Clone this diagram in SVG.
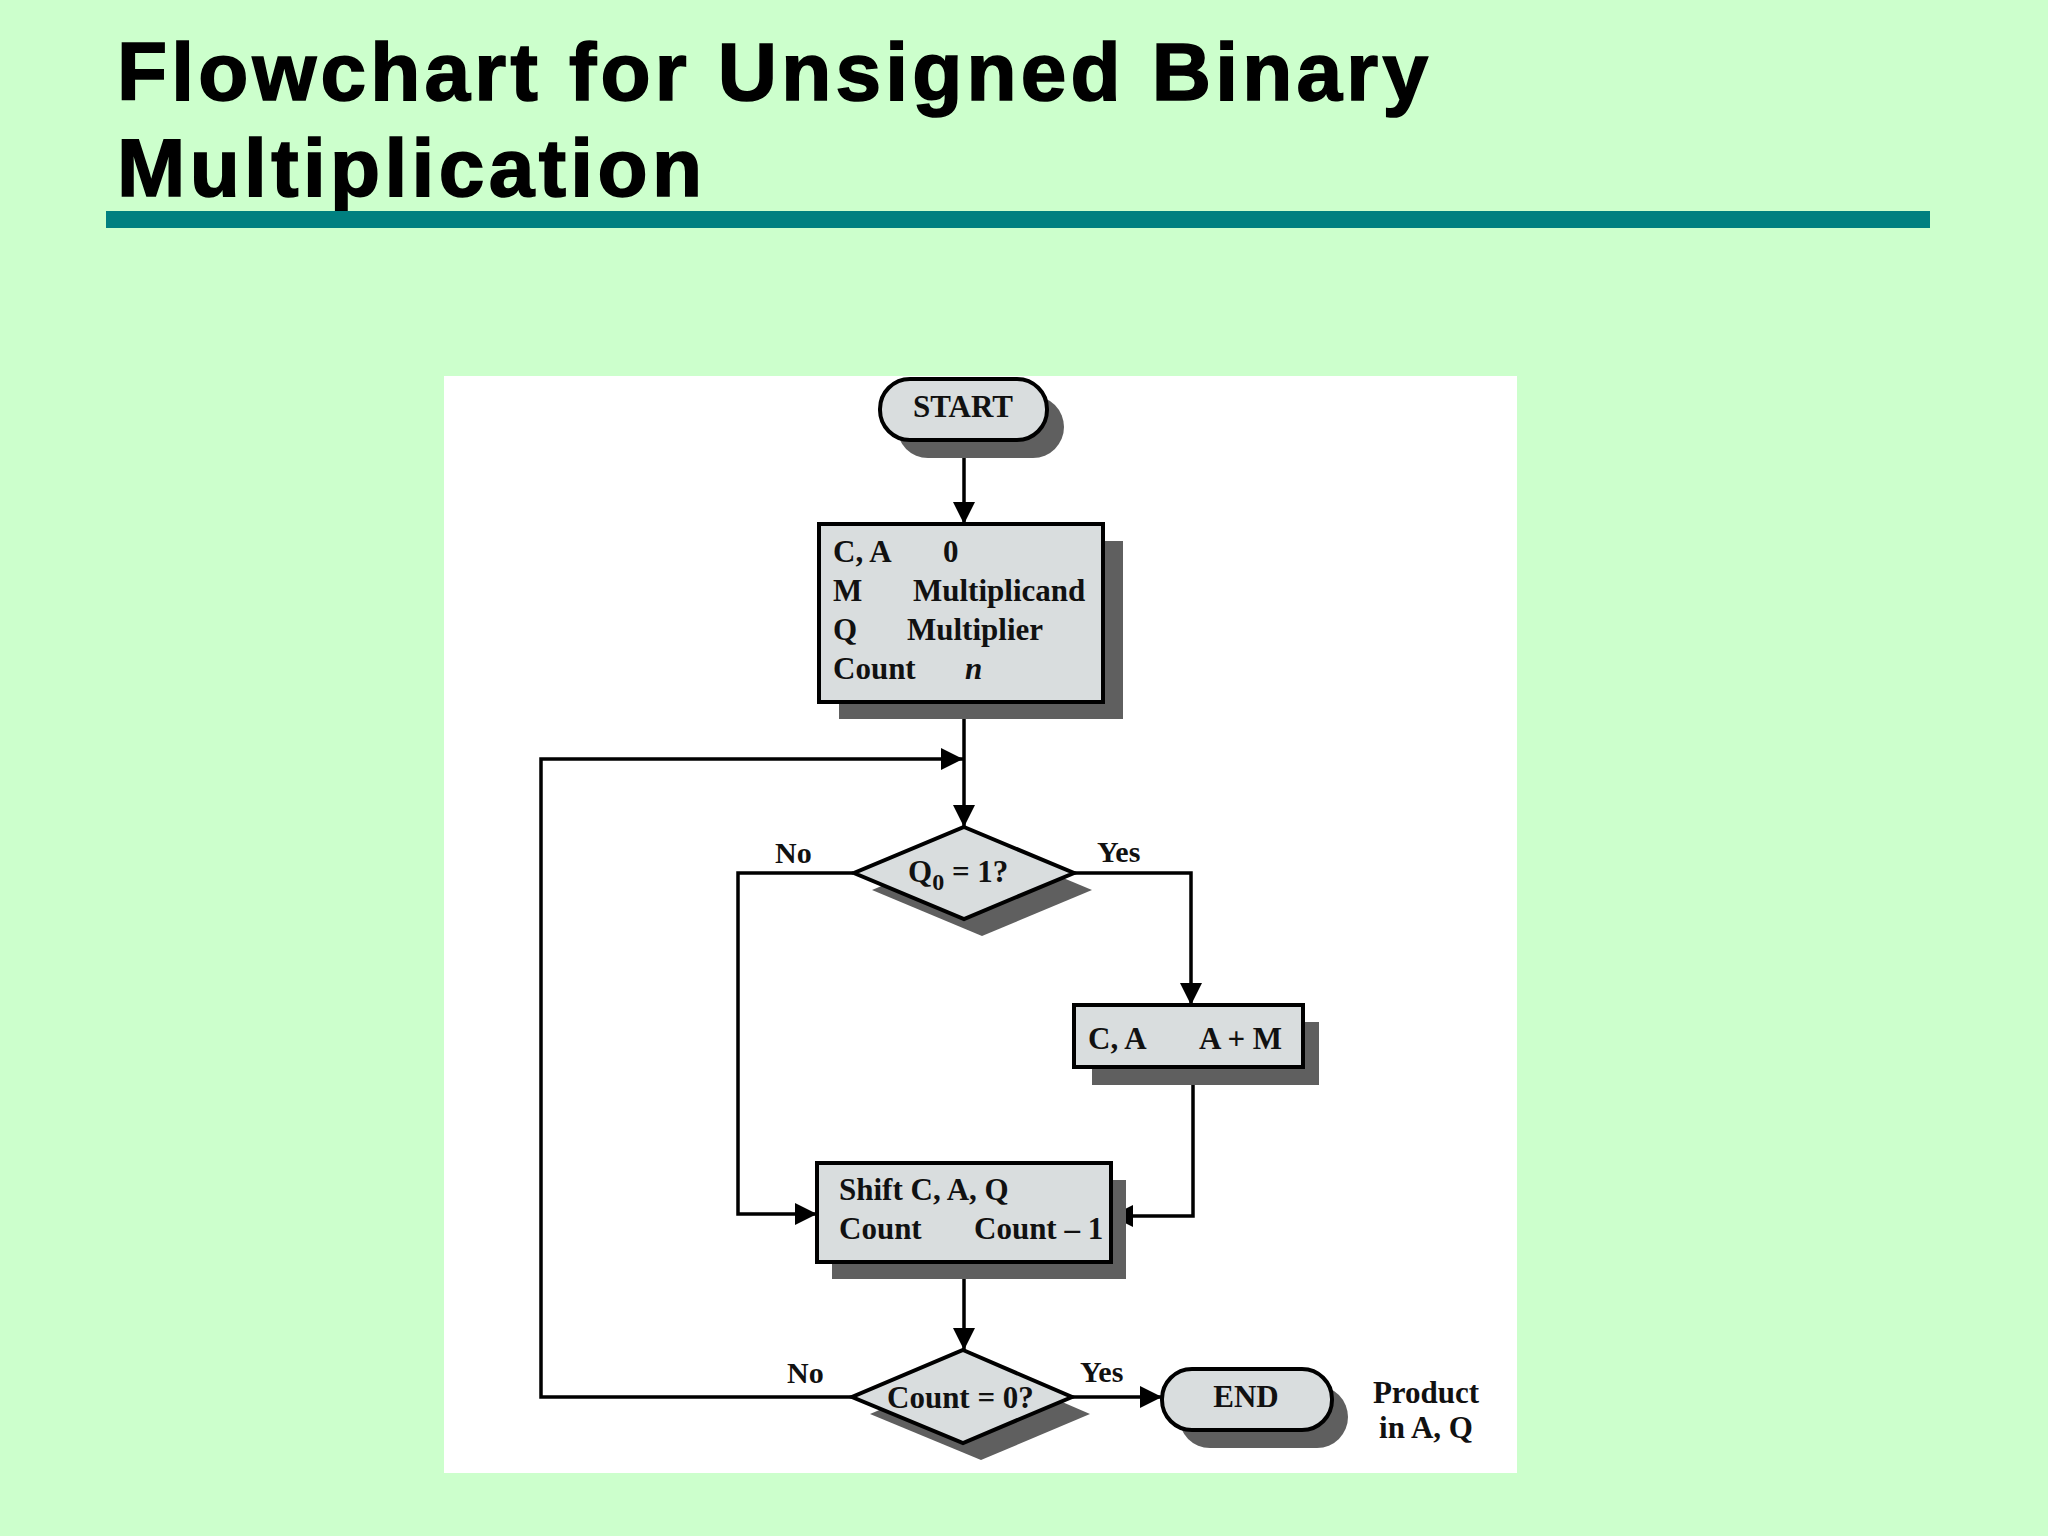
<svg xmlns="http://www.w3.org/2000/svg" width="2048" height="1536" viewBox="0 0 2048 1536">
<style>
.title{font-family:"Liberation Sans",Arial,sans-serif;font-weight:bold;font-size:82px;fill:#000;stroke:#000;stroke-width:1.6}
.t{font-family:"Liberation Serif","Times New Roman",serif;font-weight:bold;font-size:31px;fill:#111}
.lbl{font-family:"Liberation Serif","Times New Roman",serif;font-weight:bold;font-size:30px;fill:#111}
.shape{fill:#D9DDDE;stroke:#000;stroke-width:4}
.shadow{fill:#5F5F5F}
.conn{fill:none;stroke:#000;stroke-width:3.5}
</style>
<defs>
<marker id="arr" markerUnits="userSpaceOnUse" markerWidth="24" markerHeight="24" refX="22" refY="11" orient="auto">
<path d="M0,0 L22,11 L0,22 z" fill="#000"/>
</marker>
</defs>
<rect x="0" y="0" width="2048" height="1536" fill="#CCFFCC"/>
<g id="title">
<text class="title" x="117" y="100" textLength="1311" lengthAdjust="spacing">Flowchart for Unsigned Binary</text>
<text class="title" x="117" y="196" textLength="585" lengthAdjust="spacing">Multiplication</text>
<rect x="106" y="211" width="1824" height="17" fill="#008080"/>
</g>
<rect id="panel" x="444" y="376" width="1073" height="1097" fill="#FFFFFF"/>

<g id="connectors">
<path class="conn" d="M964,440 V524" marker-end="url(#arr)"/>
<path class="conn" d="M964,702 V827" marker-end="url(#arr)"/>
<path class="conn" d="M852,1397 H541 V759 H963" marker-end="url(#arr)"/>
<path class="conn" d="M853,873 H738 V1214 H817" marker-end="url(#arr)"/>
<path class="conn" d="M1074,873 H1191 V1005" marker-end="url(#arr)"/>
<path class="conn" d="M1193,1067 V1216 H1111" marker-end="url(#arr)"/>
<path class="conn" d="M964,1262 V1350" marker-end="url(#arr)"/>
<path class="conn" d="M1072,1397 H1162" marker-end="url(#arr)"/>
</g>

<g id="start">
<rect class="shadow" x="897" y="396" width="167" height="62" rx="31"/>
<rect class="shape" x="880" y="379" width="167" height="61" rx="30"/>
<text class="t" x="963" y="417" text-anchor="middle" font-size="32">START</text>
</g>

<g id="init">
<rect class="shadow" x="839" y="541" width="284" height="178"/>
<rect class="shape" x="819" y="524" width="284" height="178"/>
<text class="t" x="833" y="562">C, A</text>
<text class="t" x="943" y="562">0</text>
<text class="t" x="833" y="601">M</text>
<text class="t" x="913" y="601">Multiplicand</text>
<text class="t" x="833" y="640">Q</text>
<text class="t" x="907" y="640">Multiplier</text>
<text class="t" x="833" y="679">Count</text>
<text class="t" x="965" y="679" font-style="italic">n</text>
</g>

<g id="q0">
<polygon class="shadow" points="982,844 1092,890 982,936 872,890"/>
<polygon class="shape" points="964,827 1074,873 964,919 854,873"/>
<text class="t" x="908" y="882">Q<tspan font-size="24" dy="8">0</tspan><tspan dy="-8"> = 1?</tspan></text>
</g>
<text class="lbl" x="775" y="863">No</text>
<text class="lbl" x="1097" y="862">Yes</text>

<g id="add">
<rect class="shadow" x="1092" y="1022" width="227" height="63"/>
<rect class="shape" x="1074" y="1005" width="229" height="62"/>
<text class="t" x="1088" y="1049">C, A</text>
<text class="t" x="1199" y="1049">A + M</text>
</g>

<g id="shift">
<rect class="shadow" x="832" y="1180" width="294" height="99"/>
<rect class="shape" x="817" y="1163" width="294" height="99"/>
<text class="t" x="839" y="1200">Shift C, A, Q</text>
<text class="t" x="839" y="1239">Count</text>
<text class="t" x="974" y="1239">Count – 1</text>
</g>

<g id="count0">
<polygon class="shadow" points="981,1367 1090,1414 981,1460 870,1414"/>
<polygon class="shape" points="963,1350 1072,1397 963,1443 852,1397"/>
<text class="t" x="887" y="1408">Count = 0?</text>
</g>
<text class="lbl" x="787" y="1383">No</text>
<text class="lbl" x="1080" y="1382">Yes</text>

<g id="end">
<rect class="shadow" x="1179" y="1386" width="169" height="62" rx="31"/>
<rect class="shape" x="1162" y="1369" width="170" height="61" rx="30"/>
<text class="t" x="1246" y="1407" text-anchor="middle" font-size="32">END</text>
</g>
<g id="product">
<text class="t" x="1426" y="1403" text-anchor="middle">Product</text>
<text class="t" x="1426" y="1438" text-anchor="middle">in A, Q</text>
</g>
</svg>
